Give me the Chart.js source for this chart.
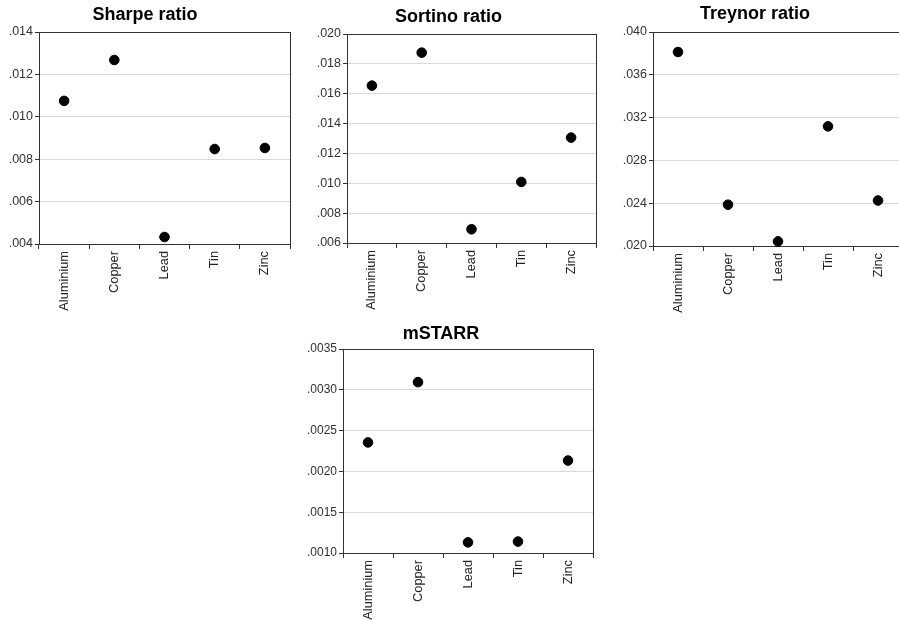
<!DOCTYPE html>
<html>
<head>
<meta charset="utf-8">
<script src="https://cdn.jsdelivr.net/npm/chart.js@4.4.1/dist/chart.umd.min.js"></script>
<style>
  html, body { margin: 0; padding: 0; background: #fff; }
  body { width: 899px; height: 620px; overflow: hidden; position: relative; }
  canvas { position: absolute; }
</style>
</head>
<body>
<canvas id="sharpe"></canvas>
<canvas id="sortino"></canvas>
<canvas id="treynor"></canvas>
<canvas id="mstarr"></canvas>
<script>
// --- data ---
const metals = ['Aluminium', 'Copper', 'Lead', 'Tin', 'Zinc'];

const sharpeValues  = [0.01075, 0.01268, 0.00433, 0.00848, 0.00853];
const sortinoValues = [0.01654, 0.01875, 0.00692, 0.01009, 0.01306];
const treynorValues = [0.03813, 0.02386, 0.02043, 0.03118, 0.02425];
const mstarrValues  = [0.002355, 0.003094, 0.00113, 0.00114, 0.002133];

const sharpeTicks  = [0.004, 0.006, 0.008, 0.010, 0.012, 0.014];
const sortinoTicks = [0.006, 0.008, 0.010, 0.012, 0.014, 0.016, 0.018, 0.020];
const treynorTicks = [0.020, 0.024, 0.028, 0.032, 0.036, 0.040];
const mstarrTicks  = [0.0010, 0.0015, 0.0020, 0.0025, 0.0030, 0.0035];

const FONT = 'Arial, "Liberation Sans", sans-serif';
const AXIS = '#333';
const TITLE_SIZE = 18;

// draws the closed frame round the plot area
const framePlugin = {
    id: 'frame',
    beforeDatasetsDraw(chart) {
        const a = chart.chartArea;
        const ctx = chart.ctx;
        ctx.save();
        ctx.strokeStyle = AXIS;
        ctx.lineWidth = 1;
        ctx.strokeRect(Math.round(a.left) + 0.5, Math.round(a.top) + 0.5,
                       Math.round(a.right - a.left), Math.round(a.bottom - a.top));
        ctx.restore();
    }
};

// panel: id, title, values, ticks, decimals, plot box (L,T,R,B), title centre, canvas top/height
function makePanel(p) {
    const canvas = document.getElementById(p.id);
    const left = p.L - p.yw;
    const width = 2 * (p.tx - left);
    canvas.width = width;
    canvas.height = p.H;
    canvas.style.left = left + 'px';
    canvas.style.top = p.top + 'px';

    const titleH = TITLE_SIZE * 1.2;
    const padTop = p.ty - p.top - titleH / 2;
    const padBottom = (p.T - p.top) - padTop - titleH;

    new Chart(canvas, {
        type: 'line',
        data: {
            labels: metals,
            datasets: [{
                data: p.values,
                showLine: false,
                pointRadius: 4.8,
                pointHoverRadius: 4.8,
                pointBackgroundColor: '#000',
                pointBorderColor: '#000',
                borderColor: '#000',
                clip: false
            }]
        },
        options: {
            responsive: false,
            devicePixelRatio: 1,
            animation: false,
            layout: { padding: { left: 0, top: 0, bottom: 0, right: width - (p.R - left) } },
            plugins: {
                legend: { display: false },
                tooltip: { enabled: false },
                title: {
                    display: true,
                    text: p.title,
                    color: '#000',
                    font: { family: FONT, size: TITLE_SIZE, weight: 'bold' },
                    padding: { top: padTop, bottom: padBottom }
                }
            },
            scales: {
                x: {
                    offset: true,
                    grid: {
                        offset: true,
                        drawOnChartArea: false,
                        drawTicks: true,
                        tickLength: 5,
                        tickColor: AXIS
                    },
                    border: { color: AXIS },
                    ticks: {
                        minRotation: 90,
                        maxRotation: 90,
                        padding: 2,
                        color: '#222',
                        font: { family: FONT, size: 12.8 }
                    },
                    afterFit: s => { s.height = p.H - (p.B - p.top); }
                },
                y: {
                    min: p.ticks[0],
                    max: p.ticks[p.ticks.length - 1],
                    afterBuildTicks: s => { s.ticks = p.ticks.map(v => ({ value: v })); },
                    afterFit: s => { s.width = p.yw; },
                    grid: {
                        color: '#d9d9d9',
                        tickColor: AXIS,
                        tickLength: 4
                    },
                    border: { color: AXIS },
                    ticks: {
                        padding: 2,
                        color: '#333',
                        font: { family: FONT, size: p.yf },
                        callback: v => Number(v).toFixed(p.dec).replace(/^0/, '')
                    }
                }
            }
        },
        plugins: [framePlugin]
    });
}

makePanel({ id: 'sharpe', title: 'Sharpe ratio', values: sharpeValues, ticks: sharpeTicks, dec: 3, yf: 12.5,
            L: 39, T: 32, R: 290, B: 244, yw: 39, tx: 160, ty: 15, top: 0, H: 320 });
makePanel({ id: 'sortino', title: 'Sortino ratio', values: sortinoValues, ticks: sortinoTicks, dec: 3, yf: 12.5,
            L: 347, T: 34, R: 596, B: 243, yw: 46, tx: 469, ty: 17, top: 0, H: 320 });
makePanel({ id: 'treynor', title: 'Treynor ratio', values: treynorValues, ticks: treynorTicks, dec: 3, yf: 12.5,
            L: 653, T: 32, R: 903, B: 246, yw: 46, tx: 776, ty: 14, top: 0, H: 320 });
makePanel({ id: 'mstarr', title: 'mSTARR', values: mstarrValues, ticks: mstarrTicks, dec: 4, yf: 12,
            L: 343, T: 349, R: 593, B: 553, yw: 54, tx: 467, ty: 334, top: 310, H: 310 });
</script>
</body>
</html>
